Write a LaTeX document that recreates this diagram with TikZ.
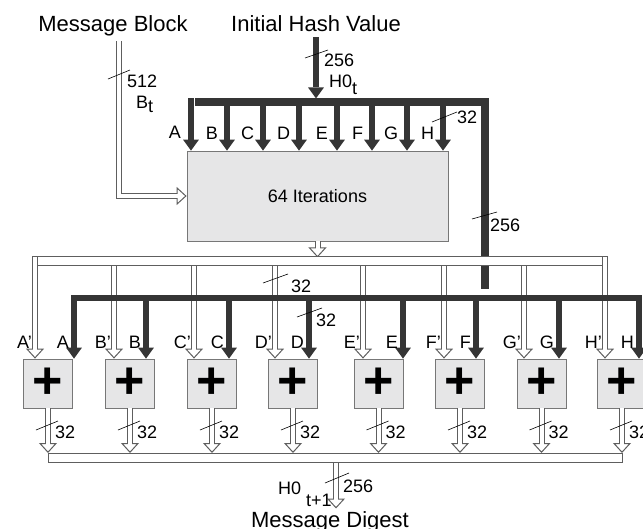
\documentclass[tikz,border=0pt]{standalone}
\usepackage{fontspec}
\setmainfont{Liberation Sans}
\usetikzlibrary{arrows.meta, positioning}

\definecolor{bardark}{HTML}{353535}
\definecolor{pipeedge}{HTML}{5E5E5E}
\definecolor{boxfill}{HTML}{E6E6E7}
\definecolor{boxedge}{HTML}{777777}

\begin{document}
\begin{tikzpicture}[
    x=1pt, y=-1pt, % one unit per pixel, y grows downwards
    >=Latex, % default arrow tip
    title/.style={font=\fontsize{22}{26}\selectfont, inner sep=0pt, anchor=base}, % outer labels
    letter/.style={font=\fontsize{18}{21}\selectfont, inner sep=0pt}, % word names
    bitwidth/.style={font=\fontsize{18}{21}\selectfont, inner sep=0pt, anchor=base west}, % bus widths
    busmark/.style={draw=black, line width=0.6pt}, % slash across a bus
    darktip/.tip={Triangle[length=11pt, width'=0pt 1.45, line width=0pt]},
    pipetip/.tip={Triangle[open, length=10pt, width'=0pt 1.8, line width=1pt]},
    thickarrow/.style={draw=bardark, line width=6pt, -darktip}, % 32/256-bit words
    thickbus/.style={draw=bardark, line width=8pt},
    hollowarrow/.style={draw=pipeedge, line width=6pt, -pipetip,
        postaction={draw=white, line width=4pt, -, shorten >=4.5pt}}, % outlined pipe
    hollowbus/.style={draw=pipeedge, line width=9.6pt, postaction={draw=white, line width=7.6pt}},
    iterbox/.style={draw=boxedge, fill=boxfill, line width=0.8pt, minimum width=261pt, minimum height=90pt, font=\fontsize{18}{21}\selectfont},
    adder/.style={draw=boxedge, fill=boxfill, line width=0.8pt, minimum size=49pt, inner sep=0pt, font=\fontsize{52}{52}\selectfont\bfseries}
]
    \useasboundingbox (0,0) rectangle (643,528);

    % Titles
    \node[title] (msg) at (113,31) {Message Block};
    \node[title] (init) at (316,31) {Initial Hash Value};
    \node[title] (digest) at (330,527) {Message Digest};

    % Compression box and the eight adders
    \node[iterbox] (iter) at (317.5,196) {64 Iterations};
    \node[adder] (addA) at (48,383.5) {+};
    \node[adder] (addB) at (130,383.5) {+};
    \node[adder] (addC) at (212,383.5) {+};
    \node[adder] (addD) at (293,383.5) {+};
    \node[adder] (addE) at (378.5,383.5) {+};
    \node[adder] (addF) at (460,383.5) {+};
    \node[adder] (addG) at (541.5,383.5) {+};
    \node[adder] (addH) at (622,383.5) {+};

    % Bus lines
    \coordinate (msgin) at (119,41);
    \coordinate (tbus) at (485,102); % corner of the top bus
    \coordinate (obus) at (0,261); % hollow bus under the box
    \coordinate (kbus) at (0,298); % second dark bus
    \coordinate (dbus) at (0,453); % top edge of the output bus
    \coordinate (dout) at (336,462.5);

    % Message block input
    \draw[hollowarrow] (msgin) |- (iter.west);

    % Initial hash value onto the top bus
    \draw[thickarrow] ([yshift=-6pt]init.south) -- ++(0,61);
    \draw[thickbus] (tbus -| 195,0) -- (tbus) -- ++(0,187);

    % Words A..H into the iterations
    \draw[thickarrow] (191,98) -- (191,0 |- iter.north) node[letter, pos=.66, left=7pt] (tA) {A};
    \draw[thickarrow] (tbus -| 227,0) -- (227,0 |- iter.north) node[letter, pos=.64, left=6pt] (tB) {B};
    \draw[thickarrow] (tbus -| 263,0) -- (263,0 |- iter.north) node[letter, pos=.64, left=6pt] (tC) {C};
    \draw[thickarrow] (tbus -| 299,0) -- (299,0 |- iter.north) node[letter, pos=.64, left=6pt] (tD) {D};
    \draw[thickarrow] (tbus -| 337,0) -- (337,0 |- iter.north) node[letter, pos=.64, left=6pt] (tE) {E};
    \draw[thickarrow] (tbus -| 372,0) -- (372,0 |- iter.north) node[letter, pos=.64, left=6pt] (tF) {F};
    \draw[thickarrow] (tbus -| 407,0) -- (407,0 |- iter.north) node[letter, pos=.64, left=6pt] (tG) {G};
    \draw[thickarrow] (tbus -| 443,0) -- (443,0 |- iter.north) node[letter, pos=.64, left=6pt] (tH) {H};

    % Result of the iterations, spread to the adders (A'..H')
    \draw[hollowarrow] (iter.south) -- ++(0,16);
    \draw[hollowarrow] (obus -| 114,0) -- (114,0 |- addB.north);
    \draw[hollowarrow] (obus -| 194,0) -- (194,0 |- addC.north);
    \draw[hollowarrow] (obus -| 275,0) -- (275,0 |- addD.north);
    \draw[hollowarrow] (obus -| 363,0) -- (363,0 |- addE.north);
    \draw[hollowarrow] (obus -| 444,0) -- (444,0 |- addF.north);
    \draw[hollowarrow] (obus -| 524,0) -- (524,0 |- addG.north);
    \draw[hollowbus] (obus -| 32,0) -- (obus -| 608,0);
    \draw[hollowarrow] (35,257.3) -- (35,0 |- addA.north);
    \draw[hollowarrow] (605,257.3) -- (605,0 |- addH.north);

    % Initial hash words to the adders (A..H)
    \draw[thickarrow, line width=6.5pt, darktip-darktip] (74,0 |- addA.north) |- (kbus -| 639,0) -- (639,0 |- addH.north);
    \draw[thickarrow] (kbus -| 146,0) -- (146,0 |- addB.north);
    \draw[thickarrow] (kbus -| 229,0) -- (229,0 |- addC.north);
    \draw[thickarrow] (kbus -| 309,0) -- (309,0 |- addD.north);
    \draw[thickarrow] (kbus -| 403,0) -- (403,0 |- addE.north);
    \draw[thickarrow] (kbus -| 476,0) -- (476,0 |- addF.north);
    \draw[thickarrow] (kbus -| 559,0) -- (559,0 |- addG.north);

    % Adder input names
    \node[letter, left=3pt] (lAp) at (35,342) {A’};
    \node[letter, left=5pt] (lA) at (74,342) {A};
    \node[letter, left=3pt] (lBp) at (114,342) {B’};
    \node[letter, left=5pt] (lB) at (146,342) {B};
    \node[letter, left=3pt] (lCp) at (194,342) {C’};
    \node[letter, left=5pt] (lC) at (229,342) {C};
    \node[letter, left=3pt] (lDp) at (275,342) {D’};
    \node[letter, left=5pt] (lD) at (309,342) {D};
    \node[letter, left=3pt] (lEp) at (363,342) {E’};
    \node[letter, left=5pt] (lE) at (403,342) {E};
    \node[letter, left=3pt] (lFp) at (444,342) {F’};
    \node[letter, left=5pt] (lF) at (476,342) {F};
    \node[letter, left=3pt] (lGp) at (524,342) {G’};
    \node[letter, left=5pt] (lG) at (559,342) {G};
    \node[letter, left=3pt] (lHp) at (605,342) {H’};
    \node[letter, left=5pt] (lH) at (639,342) {H};

    % Adder outputs onto the digest bus
    \draw[hollowarrow] (addA.south) -- (addA.south |- dbus);
    \draw[hollowarrow] (addB.south) -- (addB.south |- dbus);
    \draw[hollowarrow] (addC.south) -- (addC.south |- dbus);
    \draw[hollowarrow] (addD.south) -- (addD.south |- dbus);
    \draw[hollowarrow] (addE.south) -- (addE.south |- dbus);
    \draw[hollowarrow] (addF.south) -- (addF.south |- dbus);
    \draw[hollowarrow] (addG.south) -- (addG.south |- dbus);
    \draw[hollowarrow] (addH.south) -- (addH.south |- dbus);
    \draw[draw=pipeedge, fill=white, line width=1pt] (addA.south |- dbus) rectangle (addH.south |- 0,462);
    \draw[hollowarrow] (dout) -- ++(0,46);

    % Bus widths
    \draw[busmark] (108,79) -- (130,70);
    \node[bitwidth] (w512) at (127,87) {512};
    \node[bitwidth] (wB) at (136,108) {B\raisebox{-4pt}{t}};
    \draw[busmark] (305,58) -- (328,50);
    \node[bitwidth] (wInit) at (324,66.5) {256};
    \node[bitwidth] (wH0) at (329,87) {H0\raisebox{-7pt}{t}};
    \draw[busmark] (432,122) -- (457,112);
    \node[bitwidth] (wTop) at (457,123) {32};
    \draw[busmark] (472,219) -- (497,212);
    \node[bitwidth] (wRight) at (490,231) {256};
    \draw[busmark] (263,283) -- (288,274);
    \node[bitwidth] (wDp) at (291,292) {32};
    \draw[busmark] (297,317) -- (322,308);
    \node[bitwidth] (wD) at (316,326) {32};
    \draw[busmark] (36,430) -- (58,421);
    \node[bitwidth] (oA) at (55,438) {32};
    \draw[busmark] (118,430) -- (140,421);
    \node[bitwidth] (oB) at (137,438) {32};
    \draw[busmark] (200,430) -- (222,421);
    \node[bitwidth] (oC) at (219,438) {32};
    \draw[busmark] (281,430) -- (303,421);
    \node[bitwidth] (oD) at (300,438) {32};
    \draw[busmark] (366.5,430) -- (388.5,421);
    \node[bitwidth] (oE) at (385.5,438) {32};
    \draw[busmark] (448,430) -- (470,421);
    \node[bitwidth] (oF) at (467,438) {32};
    \draw[busmark] (529.5,430) -- (551.5,421);
    \node[bitwidth] (oG) at (548.5,438) {32};
    \draw[busmark] (610,430) -- (632,421);
    \node[bitwidth] (oH) at (629,438) {32};
    \draw[busmark] (325,483) -- (349,473);
    \node[bitwidth] (wOut) at (343,492) {256};
    \node[bitwidth] (wH1) at (278,494) {H0 \raisebox{-12.5pt}{t+1}};

\end{tikzpicture}
\end{document}
